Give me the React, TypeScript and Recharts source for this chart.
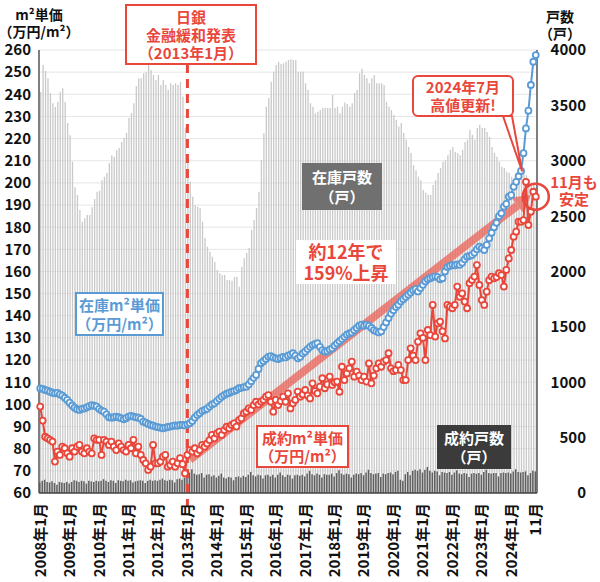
import React from "react";
import {
  ComposedChart,
  Bar,
  Line,
  XAxis,
  YAxis,
  CartesianGrid,
  ReferenceLine,
  ReferenceDot,
} from "recharts";

const FONT = "'Noto Sans CJK JP', 'Noto Sans', sans-serif";
const RED = "#e9473b";
const BLUE = "#5b9bd5";

const years = [2008, 2009, 2010, 2011, 2012, 2013, 2014, 2015, 2016, 2017, 2018, 2019, 2020, 2021, 2022, 2023, 2024];
const lastMonth = 11;

// 在庫戸数 (戸)
const inventoryUnits = [
  3620, 3865, 3810, 3745, 3610, 3520, 3485, 3530, 3620, 3655, 3530, 3340,
  3230, 2990, 2760, 2690, 2555, 2450, 2480, 2510, 2510, 2580, 2655, 2720,
  2730, 2825, 2855, 2890, 2980, 3050, 3035, 3095, 3115, 3170, 3205, 3250,
  3385, 3430, 3520, 3675, 3745, 3745, 3790, 3800, 3880, 3820, 3775, 3730,
  3775, 3685, 3730, 3685, 3640, 3700, 3685, 3700, 3685, 3710, 3580, 3300,
  3040, 2811, 2676, 2600, 2585, 2573, 2450, 2302, 2224, 2179, 2134, 2089,
  2013, 1985, 1968, 1968, 1923, 1923, 1917, 1950, 1953, 1863, 2043, 2120,
  2167, 2212, 2375, 2465, 2573, 2720, 3007, 3250, 3488, 3567, 3714, 3804,
  3865, 3895, 3874, 3880, 3895, 3910, 3916, 3910, 3910, 3804, 3804, 3804,
  3700, 3640, 3520, 3488, 3430, 3443, 3458, 3476, 3476, 3476, 3476, 3594,
  3476, 3488, 3430, 3488, 3525, 3512, 3488, 3520, 3612, 3640, 3790, 3830,
  3775, 3745, 3700, 3745, 3775, 3700, 3700, 3700, 3685, 3530, 3488, 3458,
  3413, 3370, 3310, 3340, 3250, 3190, 3125, 3070, 2960, 2915, 2855, 2825,
  2735, 2710, 2690, 2690, 2780, 2825, 2890, 2935, 2990, 3005, 3050, 3100,
  3125, 3080, 3070, 3050, 3100, 3170, 3190, 3280, 3235, 3190, 3295, 3325,
  3295, 3295, 3260, 3215, 3125, 3070, 3035, 2990, 2945, 2935, 2900, 2890,
  2855, 2825, 2800, 2850, 2880, 2900, 2870, 2830, 2800, 2780, 2760,
];

// 成約戸数 (戸)
const contractUnits = [
  95, 110, 120, 100, 95, 105, 90, 75, 100, 95, 90, 100,
  85, 100, 115, 110, 100, 110, 105, 85, 110, 105, 100, 110,
  105, 110, 125, 110, 100, 115, 110, 90, 115, 110, 105, 120,
  110, 115, 95, 105, 110, 115, 110, 90, 110, 120, 110, 115,
  110, 120, 130, 115, 110, 120, 115, 95, 125, 130, 120, 140,
  150, 185, 215, 175, 165, 170, 180, 140, 165, 170, 150, 160,
  140, 155, 175, 140, 130, 145, 140, 115, 145, 150, 140, 155,
  145, 165, 190, 160, 150, 165, 160, 130, 160, 165, 150, 165,
  140, 165, 185, 160, 145, 165, 160, 130, 160, 165, 155, 165,
  150, 175, 200, 170, 160, 175, 165, 140, 170, 165, 165, 175,
  150, 180, 205, 175, 165, 175, 170, 140, 165, 175, 170, 180,
  160, 185, 210, 180, 170, 175, 180, 145, 175, 170, 180, 185,
  170, 190, 200, 120, 110, 170, 190, 160, 200, 210, 200, 215,
  185, 210, 235, 200, 185, 200, 195, 160, 190, 185, 180, 190,
  165, 185, 205, 175, 170, 180, 175, 145, 175, 180, 175, 180,
  165, 190, 210, 180, 175, 180, 180, 150, 180, 185, 180, 185,
  175, 195, 215, 190, 185, 190, 195, 160, 180, 200, 195,
];

// 在庫m²単価 (万円/m²)
const listingPrice = [
  107.2, 107.0, 106.5, 106.2, 105.7, 105.3, 105.0, 105.2, 104.5, 104.0, 103.0, 102.0,
  100.8, 99.5, 98.5, 97.8, 97.5, 98.0, 98.2, 98.7, 99.2, 99.7, 99.4, 99.0,
  98.0, 97.2, 96.7, 95.5, 94.2, 94.0, 94.2, 94.5, 94.2, 93.8, 93.3, 93.8,
  94.5, 94.8, 94.5, 94.2, 94.0, 93.5, 92.2, 91.8, 91.2, 90.7, 90.4, 90.0,
  89.7, 89.5, 89.2, 89.5, 89.8, 90.0, 90.3, 90.5, 90.4, 90.7, 90.7, 90.5,
  91.0, 91.5, 92.5, 94.0, 95.2, 96.0, 97.0, 97.5, 98.0, 99.0, 100.0, 100.5,
  101.5, 102.5, 103.5, 104.2, 104.8, 105.2, 105.7, 106.0, 106.5, 107.3, 107.5, 107.8,
  108.0, 109.0, 110.5, 112.0, 113.3, 116.0, 118.6, 119.5, 120.5, 121.5, 121.8, 121.2,
  120.8, 120.5, 121.0, 121.5, 121.2, 122.0, 122.5, 123.1, 122.0, 120.8, 121.5, 123.0,
  123.8, 125.0, 126.0, 126.8, 127.2, 127.6, 126.0, 124.5, 123.8, 124.0, 124.8, 125.3,
  126.5, 127.5, 128.5, 129.5, 130.5, 131.5, 132.0, 132.5, 133.5, 134.5, 135.5, 136.0,
  135.5, 136.0, 135.5, 134.5, 133.5, 133.0, 132.5, 133.0, 135.0, 137.0, 139.0, 141.0,
  142.5, 144.0, 145.0, 146.5, 147.5, 148.5, 149.5, 150.5, 151.5, 152.0, 151.0, 152.5,
  154.0, 155.5, 156.5, 157.0, 157.5, 157.8, 157.5, 156.5, 157.0, 160.0, 162.0, 162.5,
  163.0, 162.8, 163.2, 163.0, 164.0, 165.5, 166.7, 167.0, 167.5, 168.5, 170.0, 171.2,
  170.5, 169.7, 172.0, 175.0, 177.5, 180.0, 182.0, 185.0, 186.3, 189.3, 190.5, 193.8,
  194.5, 198.3, 200.5, 203.0, 205.4, 213.4, 224.6, 232.6, 244.2, 254.7, 257.7,
];

// 成約m²単価 (万円/m²)
const contractPrice = [
  99.0, 92.7, 85.4, 84.7, 84.0, 83.2, 74.2, 78.7, 77.2, 80.9, 80.2, 77.9,
  76.4, 80.2, 78.7, 80.9, 81.7, 78.7, 77.9, 80.2, 78.7, 77.9, 84.7, 84.0,
  84.0, 77.2, 84.0, 83.2, 81.7, 83.2, 80.9, 79.4, 82.4, 80.9, 79.4, 78.7,
  81.7, 80.2, 84.0, 77.9, 80.9, 77.2, 74.9, 73.4, 70.4, 71.9, 81.7, 73.4,
  73.4, 74.2, 76.4, 77.2, 71.9, 72.6, 74.2, 71.9, 73.4, 75.7, 73.0, 68.9,
  77.2, 79.4, 78.7, 80.2, 77.9, 79.4, 81.7, 80.9, 82.4, 83.9, 86.2, 84.7,
  86.9, 87.7, 86.2, 88.4, 89.9, 89.2, 90.7, 91.4, 90.0, 92.9, 93.7, 96.0,
  96.7, 98.2, 97.5, 99.7, 101.2, 100.0, 101.2, 102.0, 103.5, 104.2, 101.2, 96.7,
  102.0, 99.7, 101.5, 103.5, 101.2, 105.0, 98.2, 100.5, 102.0, 105.8, 103.5, 104.5,
  106.5, 104.0, 102.7, 109.5, 106.0, 105.0, 108.0, 111.8, 107.3, 109.0, 112.5, 108.8,
  110.0, 110.3, 105.7, 117.0, 111.0, 114.0, 116.3, 119.3, 112.5, 114.8, 113.0, 111.0,
  112.5, 110.3, 118.5, 109.5, 113.0, 116.3, 118.5, 117.0, 119.3, 120.0, 123.1, 116.3,
  115.0, 115.5, 117.8, 115.5, 111.0, 111.0, 120.0, 125.3, 122.0, 120.0, 128.3, 132.1,
  130.0, 120.0, 133.6, 131.3, 144.9, 130.6, 136.6, 137.4, 133.0, 129.8, 144.9, 144.1,
  143.4, 144.9, 153.2, 148.6, 150.1, 146.4, 143.4, 154.7, 156.2, 157.7, 162.9, 153.9,
  147.1, 144.9, 150.9, 156.1, 157.7, 156.9, 157.5, 159.2, 158.4, 153.2, 160.7, 165.9,
  169.7, 175.7, 178.0, 182.5, 182.5, 183.2, 200.5, 181.0, 187.0, 196.0, 193.8,
];

const priceTicks = [60, 70, 80, 90, 100, 110, 120, 130, 140, 150, 160, 170, 180, 190, 200, 210, 220, 230, 240, 250, 260];
const countTicks = [0, 500, 1000, 1500, 2000, 2500, 3000, 3500, 4000];

const months: string[] = years.flatMap((y) =>
  Array.from({ length: y === 2024 ? lastMonth : 12 }, (_, i) => `${y}年${i + 1}月`)
);
const xTicks = [...years.map((y) => `${y}年1月`), "2024年11月"];

const data = months.map((m, i) => ({
  m,
  inv: inventoryUnits[i],
  sold: contractUnits[i],
  ask: listingPrice[i],
  deal: contractPrice[i],
}));

const XTick = (props: any) => {
  const { x, y, payload } = props;
  const label = payload.value === "2024年11月" ? "11月" : payload.value;
  return (
    <g transform={`translate(${x},${y})`}>
      <text
        transform="rotate(-90)"
        x={-2}
        y={0}
        dy="0.36em"
        textAnchor="end"
        fontSize={15}
        fontWeight={700}
        fill="#111"
        fontFamily={FONT}
      >
        {label}
      </text>
    </g>
  );
};

const RightTick = (props: any) => (
  <text
    x={props.x + 41}
    y={props.y}
    dy="0.36em"
    textAnchor="end"
    fontSize={15}
    fontWeight={700}
    fill="#111"
    fontFamily={FONT}
  >
    {props.payload.value}
  </text>
);

const DashShape = (p: any) => {
  const top = Math.min(p.y1, p.y2) + 14;
  const bot = Math.max(p.y1, p.y2) + 14;
  return <line x1={p.x1} x2={p.x2} y1={top} y2={bot} stroke={RED} strokeWidth={3} strokeDasharray="9 6" />;
};

const ArrowShape = (p: any) => {
  const { x1, y1, x2, y2 } = p;
  const a = Math.atan2(y2 - y1, x2 - x1);
  const c = Math.cos(a);
  const s = Math.sin(a);
  const hl = 17;
  const hw = 10;
  const bx = x2 - hl * c;
  const by = y2 - hl * s;
  return (
    <g opacity={0.7}>
      <line x1={x1} y1={y1} x2={bx} y2={by} stroke="#ec5a4e" strokeWidth={8} />
      <polygon points={`${x2},${y2} ${bx - s * hw},${by + c * hw} ${bx + s * hw},${by - c * hw}`} fill="#ec5a4e" />
    </g>
  );
};

const TailShape = (p: any) => {
  const { cx, cy } = p;
  return (
    <polygon
      points={`503,116 512,116 ${cx - 4},${cy - 11}`}
      fill="#fff"
      stroke={RED}
      strokeWidth={2}
      strokeLinejoin="round"
    />
  );
};

type BoxProps = {
  left: number;
  top: number;
  width: number;
  height: number;
  lines: string[];
  color: string;
  bg?: string;
  border?: string;
  radius?: number;
  fontSize?: number;
  lineHeight?: number;
};

const Box = ({ left, top, width, height, lines, color, bg, border, radius, fontSize = 15, lineHeight = 19 }: BoxProps) => (
  <div
    style={{
      position: "absolute",
      left,
      top,
      width,
      height,
      boxSizing: "border-box",
      background: bg || "transparent",
      border: border ? `2px solid ${border}` : "none",
      borderRadius: radius || 0,
      color,
      fontFamily: FONT,
      fontWeight: 700,
      fontSize,
      lineHeight: `${lineHeight}px`,
      display: "flex",
      flexDirection: "column",
      justifyContent: "center",
      alignItems: "center",
      whiteSpace: "nowrap",
    }}
  >
    {lines.map((t) => (
      <div key={t}>{t}</div>
    ))}
  </div>
);

export default function App() {
  return (
    <div style={{ position: "absolute", left: 0, top: 0, width: 600, height: 582, background: "#fff" }}>
      <ComposedChart width={600} height={582} data={data} margin={{ top: 50, right: 0, bottom: 0, left: 0 }}>
        <CartesianGrid yAxisId="price" xAxisId="a" vertical={false} stroke="#e6e6e6" />
        <XAxis
          xAxisId="a"
          dataKey="m"
          ticks={xTicks}
          interval={0}
          tick={<XTick />}
          tickLine={false}
          height={89}
          axisLine={{ stroke: "#444", strokeWidth: 1.5 }}
        />
        <XAxis xAxisId="b" dataKey="m" hide />
        <YAxis
          yAxisId="price"
          orientation="left"
          domain={[60, 260]}
          ticks={priceTicks}
          interval={0}
          width={39}
          tickLine={false}
          axisLine={{ stroke: "#555", strokeWidth: 1.5 }}
          tick={{ fill: "#111", fontSize: 15, fontWeight: 700, fontFamily: FONT }}
        />
        <YAxis
          yAxisId="count"
          orientation="right"
          domain={[0, 4000]}
          ticks={countTicks}
          interval={0}
          width={63}
          tickLine={false}
          axisLine={{ stroke: "#555", strokeWidth: 1.5 }}
          tick={<RightTick />}
        />
        <Bar xAxisId="a" yAxisId="count" dataKey="inv" fill="#c9c9c9" barSize={1.3} isAnimationActive={false} />
        <Bar xAxisId="b" yAxisId="count" dataKey="sold" fill="#5f5f5f" barSize={1.5} isAnimationActive={false} />
        <ReferenceLine xAxisId="a" yAxisId="price" x="2013年1月" shape={DashShape} />
        <Line
          xAxisId="a"
          yAxisId="price"
          dataKey="ask"
          stroke={BLUE}
          strokeWidth={2}
          dot={{ r: 3, fill: "#fff", stroke: BLUE, strokeWidth: 1.8 }}
          isAnimationActive={false}
        />
        <ReferenceLine
          xAxisId="a"
          yAxisId="price"
          segment={[
            { x: "2013年2月", y: 75 },
            { x: "2024年9月", y: 194.5 },
          ]}
          shape={ArrowShape}
        />
        <Line
          xAxisId="a"
          yAxisId="price"
          dataKey="deal"
          stroke={RED}
          strokeWidth={2}
          dot={{ r: 3, fill: "#fff", stroke: RED, strokeWidth: 1.8 }}
          isAnimationActive={false}
        />
        <ReferenceDot xAxisId="a" yAxisId="price" x="2024年7月" y={200.5} shape={TailShape} />
        <ReferenceDot
          xAxisId="a"
          yAxisId="price"
          x="2024年11月"
          y={193.8}
          r={13}
          fill="none"
          stroke={RED}
          strokeWidth={2.5}
        />
      </ComposedChart>

      <Box left={0} top={5} width={78} height={36} lines={["m²単価", "（万円/m²）"]} color="#111" fontSize={14} lineHeight={17} />
      <Box left={540} top={8} width={40} height={34} lines={["戸数", "（戸）"]} color="#111" fontSize={14} lineHeight={17} />
      <Box left={125} top={4} width={132} height={61} lines={["日銀", "金融緩和発表", "（2013年1月）"]} color={RED} bg="#fff" border={RED} fontSize={15} lineHeight={18} />
      <Box left={412} top={75} width={102} height={42} lines={["2024年7月", "高値更新!"]} color={RED} bg="#fff" border={RED} radius={6} fontSize={15} lineHeight={18} />
      <Box left={548} top={172} width={52} height={36} lines={["11月も", "安定"]} color={RED} fontSize={15} lineHeight={17} />
      <Box left={302} top={163} width={80} height={47} lines={["在庫戸数", "（戸）"]} color="#fff" bg="#707070" fontSize={15} lineHeight={20} />
      <Box left={296} top={240} width={100} height={44} lines={["約12年で", "159%上昇"]} color={RED} bg="#fff" fontSize={18} lineHeight={21} />
      <Box left={75} top={292} width={89} height={44} lines={["在庫m²単価", "（万円/m²）"]} color={BLUE} bg="#fff" border={BLUE} fontSize={15} lineHeight={19} />
      <Box left={256} top={425} width={93} height={43} lines={["成約m²単価", "（万円/m²）"]} color={RED} bg="#fff" border={RED} fontSize={15} lineHeight={18} />
      <Box left={437} top={425} width={74} height={44} lines={["成約戸数", "（戸）"]} color="#fff" bg="#3b3b3b" fontSize={15} lineHeight={19} />
    </div>
  );
}
